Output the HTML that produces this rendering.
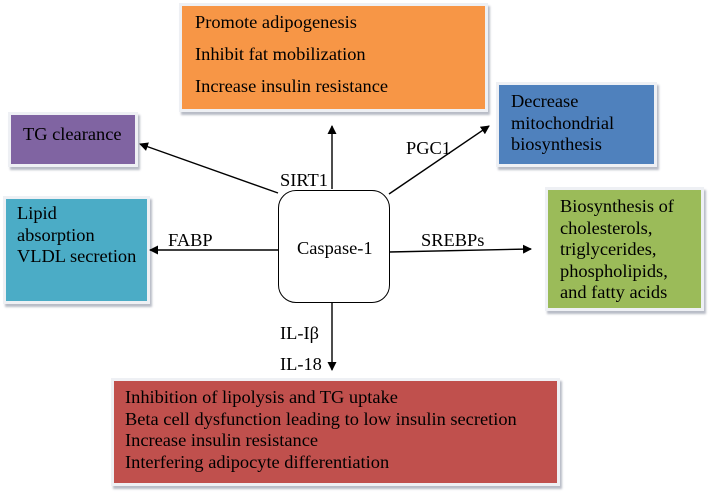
<!DOCTYPE html>
<html><head><style>
body{margin:0;width:709px;height:494px;background:#fff;position:relative;overflow:hidden;font-family:"Liberation Serif",serif;font-size:18.4px;color:#000}
.b{position:absolute;box-sizing:border-box;border:3px solid #eef0f4;box-shadow:2px 3px 2px #b8bcc6;line-height:21.5px;white-space:nowrap}
.t{position:absolute;white-space:nowrap;line-height:20px}
</style></head><body>
<div class="b" style="left:179px;top:3px;width:309px;height:109px;background:#f79646;padding:0 13px;line-height:32px">Promote adipogenesis<br>Inhibit fat mobilization<br>Increase insulin resistance</div>
<div class="b" style="left:8px;top:112px;width:130px;height:55px;background:#8064a2;padding:9px 12px">TG clearance</div>
<div class="b" style="left:496px;top:82px;width:161px;height:85px;background:#4f81bd;padding:6px 12px">Decrease<br>mitochondrial<br>biosynthesis</div>
<div class="b" style="left:3px;top:196px;width:147px;height:108px;background:#4bacc6;padding:4px 11px">Lipid<br>absorption<br>VLDL secretion</div>
<div class="b" style="left:545px;top:187px;width:159px;height:124px;background:#9bbb59;padding:6px 12px">Biosynthesis of<br>cholesterols,<br>triglycerides,<br>phospholipids,<br>and fatty acids</div>
<div class="b" style="left:111px;top:378px;width:449px;height:108px;background:#c0504d;padding:6px 11px">Inhibition of lipolysis and TG uptake<br>Beta cell dysfunction leading to low insulin secretion<br>Increase insulin resistance<br>Interfering adipocyte differentiation</div>
<div style="position:absolute;left:278px;top:190px;width:112px;height:113px;border:1.3px solid #000;border-radius:18px;box-sizing:border-box;background:#fff"></div>
<div class="t" style="left:297px;top:238px">Caspase-1</div>
<svg width="709" height="494" style="position:absolute;left:0;top:0">
<defs><marker id="a" markerWidth="9" markerHeight="9" refX="8" refY="4.5" orient="auto" markerUnits="userSpaceOnUse"><path d="M0,0L9,4.5L0,9z" fill="#000"/></marker></defs>
<g stroke="#000" stroke-width="1.4" fill="none" marker-end="url(#a)">
<line x1="332" y1="189" x2="332" y2="126"/>
<line x1="278" y1="193" x2="140" y2="144"/>
<line x1="389" y1="194" x2="489" y2="126"/>
<line x1="278" y1="250" x2="150" y2="250"/>
<line x1="389" y1="252" x2="531" y2="249"/>
<line x1="332" y1="303" x2="332" y2="370"/>
</g></svg>
<div class="t" style="left:280px;top:170px">SIRT1</div>
<div class="t" style="left:406px;top:138px">PGC1</div>
<div class="t" style="left:168px;top:230px">FABP</div>
<div class="t" style="left:421px;top:230px">SREBPs</div>
<div class="t" style="left:280px;top:323px">IL-Iβ</div>
<div class="t" style="left:280px;top:354px">IL-18</div>
</body></html>
